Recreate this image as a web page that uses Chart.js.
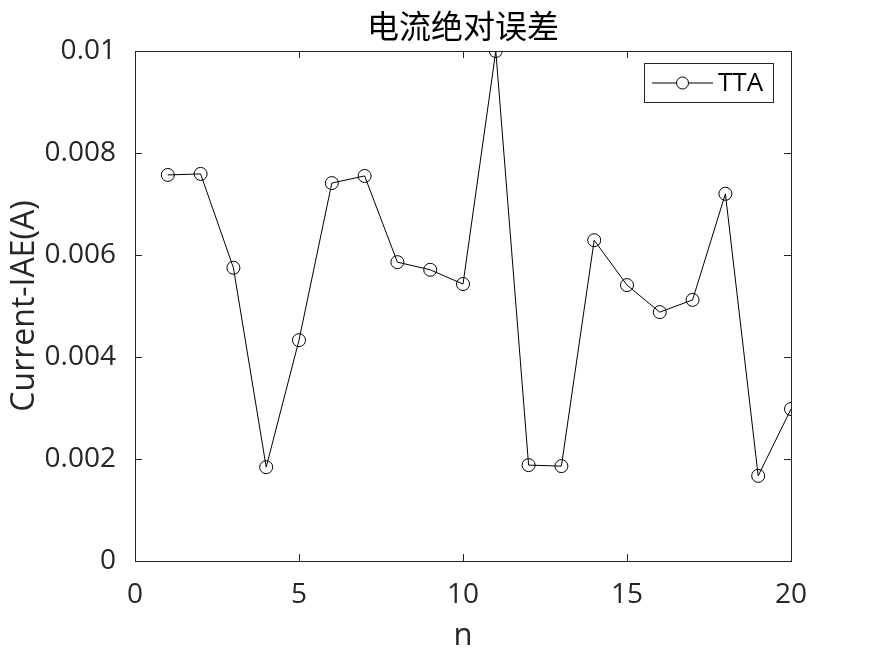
<!DOCTYPE html>
<html>
<head>
<meta charset="utf-8">
<script src="https://cdn.jsdelivr.net/npm/chart.js@4.4.1/dist/chart.umd.min.js"></script>
<style>
html,body{margin:0;padding:0;background:#fff;}
#wrap{width:875px;height:656px;position:relative;}
</style>
</head>
<body>
<div id="wrap"><canvas id="c" width="875" height="656"></canvas></div>
<script>
const titleText = '电流绝对误差';
const xTitle = 'n';
const yTitle = 'Current-IAE(A)';
const seriesName = 'TTA';
const nValues = [1,2,3,4,5,6,7,8,9,10,11,12,13,14,15,16,17,18,19,20];
const iaeValues = [0.00757,0.00759,0.00575,0.00184,0.00433,0.00741,0.00755,0.00586,0.00571,0.00543,0.01,0.00188,0.00186,0.00629,0.00541,0.00488,0.00512,0.00720,0.00167,0.00298];
const xTicks = [0,5,10,15,20];
const yTicks = [0,0.002,0.004,0.006,0.008,0.01];
const yTickLabels = ['0','0.002','0.004','0.006','0.008','0.01'];

const AX = '#262626';
const FONT = "'Open Sans', 'Noto Sans', sans-serif";

const boxPlugin = {
  id: 'box',
  afterDatasetsDraw(chart) {
    const ctx = chart.ctx, a = chart.chartArea;
    const xs = chart.scales.x, ys = chart.scales.y;
    ctx.save();
    ctx.strokeStyle = AX;
    ctx.lineWidth = 1;
    ctx.strokeRect(Math.round(a.left)+0.5, Math.round(a.top)+0.5, Math.round(a.right-a.left), Math.round(a.bottom-a.top));
    const L = 7;
    ctx.beginPath();
    xTicks.forEach(v => {
      const px = Math.round(xs.getPixelForValue(v))+0.5;
      ctx.moveTo(px, a.bottom); ctx.lineTo(px, a.bottom - L);
      ctx.moveTo(px, a.top); ctx.lineTo(px, a.top + L);
    });
    yTicks.forEach(v => {
      const py = Math.round(ys.getPixelForValue(v))+0.5;
      ctx.moveTo(a.left, py); ctx.lineTo(a.left + L, py);
      ctx.moveTo(a.right, py); ctx.lineTo(a.right - L, py);
    });
    ctx.stroke();
    // title centred over the plot area
    ctx.fillStyle = '#000';
    ctx.font = "32px 'Noto Sans CJK SC', sans-serif";
    ctx.textAlign = 'center';
    ctx.textBaseline = 'middle';
    ctx.fillText(titleText, (a.left + a.right) / 2, 26);
    // legend
    const lx = 644, ly = 63, lw = 129, lh = 39;
    ctx.fillStyle = '#fff';
    ctx.fillRect(lx, ly, lw, lh);
    ctx.strokeStyle = AX;
    ctx.strokeRect(lx+0.5, ly+0.5, lw, lh);
    const cy = ly + lh/2 + 0.5;
    ctx.strokeStyle = '#000';
    ctx.beginPath();
    ctx.moveTo(652, cy); ctx.lineTo(713, cy);
    ctx.stroke();
    ctx.fillStyle = '#fff';
    ctx.beginPath(); ctx.arc(682.5, cy, 6, 0, Math.PI*2); ctx.fill(); ctx.stroke();
    ctx.fillStyle = '#000';
    ctx.font = "26px " + FONT;
    ctx.textBaseline = 'middle';
    ctx.textAlign = 'left';
    ctx.fillText(chart.data.datasets[0].label, 718, cy + 1);
    ctx.restore();
  }
};

new Chart(document.getElementById('c'), {
  type: 'line',
  data: {
    datasets: [{
      label: seriesName,
      data: nValues.map((n, i) => ({x: n, y: iaeValues[i]})),
      borderColor: '#000',
      borderWidth: 1,
      pointRadius: 6.5,
      pointHoverRadius: 6.5,
      pointBorderWidth: 1,
      pointBorderColor: '#000',
      pointBackgroundColor: 'rgba(0,0,0,0)',
      tension: 0,
      fill: false
    }]
  },
  options: {
    responsive: false,
    animation: false,
    events: [],
    layout: { padding: { left: 0, right: 84, top: 51, bottom: 0 } },
    plugins: {
      legend: { display: false },
      tooltip: { enabled: false },
      title: { display: false }
    },
    scales: {
      x: {
        type: 'linear',
        min: 0, max: 20,
        afterFit(s) { s.height = 95; },
        afterBuildTicks(s) { s.ticks = xTicks.map(v => ({value: v})); },
        grid: { display: false },
        border: { display: false },
        ticks: { color: AX, font: { family: FONT, size: 28 }, padding: 9, maxRotation: 0 },
        title: { display: true, text: xTitle, color: AX, font: { family: FONT, size: 31 }, padding: { top: 0, bottom: 1 } }
      },
      y: {
        type: 'linear',
        min: 0, max: 0.01,
        afterFit(s) { s.width = 135; },
        afterBuildTicks(s) { s.ticks = yTicks.map(v => ({value: v})); },
        grid: { display: false },
        border: { display: false },
        ticks: {
          color: AX, font: { family: FONT, size: 28 }, padding: 11,
          callback: (v) => { const i = yTicks.findIndex(t => Math.abs(t - v) < 1e-9); return i >= 0 ? yTickLabels[i] : ''; }
        },
        title: { display: true, text: yTitle, color: AX, font: { family: FONT, size: 32 }, padding: { top: 6, bottom: 0 } }
      }
    }
  },
  plugins: [boxPlugin]
});
</script>
</body>
</html>
